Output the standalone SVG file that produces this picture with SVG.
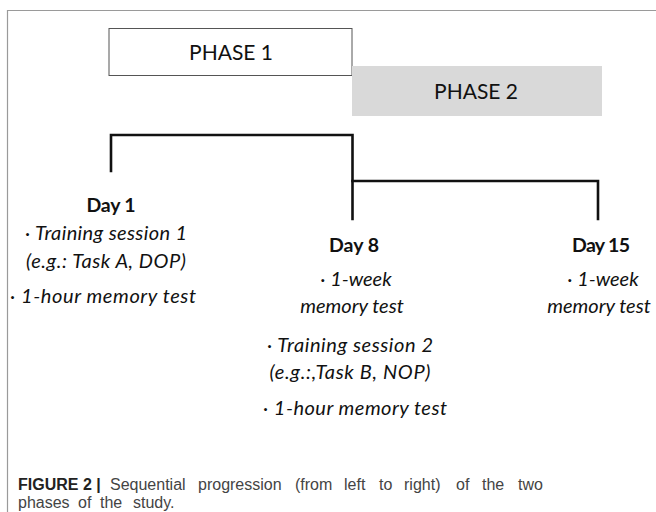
<svg xmlns="http://www.w3.org/2000/svg" width="656" height="512" viewBox="0 0 656 512">
  <style>
    .frame { fill: none; stroke: #9a9a9a; stroke-width: 1.2; }
    .phase-label { font-family: Lato, "Open Sans", sans-serif; font-size: 21px; fill: #111; text-anchor: middle; }
    .day { font-family: Lato, "Open Sans", sans-serif; font-size: 19.5px; font-weight: bold; fill: #111; text-anchor: middle; }
    .item { font-family: Lato, "Open Sans", sans-serif; font-size: 20px; font-style: italic; fill: #111; text-anchor: middle; }
    .conn { fill: none; stroke: #111; stroke-width: 2.6; stroke-linecap: square; }
    .cap { font-family: "Liberation Sans", Arial, sans-serif; font-size: 16px; fill: #444; }
    .cap-b { font-weight: bold; fill: #222; }
  </style>

  <rect width="656" height="512" fill="#ffffff"/>
  <!-- figure frame (top and left rules) -->
  <path class="frame" d="M7.5,512 V10.5 H656"/>

  <g id="phase1">
    <rect x="109" y="28.5" width="243" height="47" fill="#ffffff" stroke="#555" stroke-width="1"/>
    <text class="phase-label" x="231" y="59.5">PHASE 1</text>
  </g>
  <g id="phase2">
    <rect x="352" y="66" width="250" height="50" fill="#d9d9d9"/>
    <text class="phase-label" x="476" y="98.5">PHASE 2</text>
  </g>

  <g id="connectors">
    <path class="conn" d="M111,171 V135 H352.5 V219"/>
    <path class="conn" d="M352.5,181 H598 V219"/>
  </g>

  <g id="day1">
    <text class="day" x="111" y="212" textLength="49">Day 1</text>
    <text class="item" x="106" y="240" textLength="162">· Training session 1</text>
    <text class="item" x="106" y="268" textLength="160">(e.g.: Task A, DOP)</text>
    <text class="item" x="103" y="303" textLength="186">· 1-hour memory test</text>
  </g>

  <g id="day8">
    <text class="day" x="354" y="252" textLength="50">Day 8</text>
    <text class="item" x="356" y="286">· 1-week</text>
    <text class="item" x="352" y="313">memory test</text>
    <text class="item" x="350" y="352" textLength="166">· Training session 2</text>
    <text class="item" x="350" y="379" textLength="161">(e.g.:,Task B, NOP)</text>
    <text class="item" x="355" y="415" textLength="184">· 1-hour memory test</text>
  </g>

  <g id="day15">
    <text class="day" x="601" y="252" textLength="58">Day 15</text>
    <text class="item" x="603" y="286">· 1-week</text>
    <text class="item" x="599" y="313">memory test</text>
  </g>

  <g id="caption">
    <text class="cap" y="490">
      <tspan class="cap-b" x="18">FIGURE 2 |</tspan>
      <tspan x="110">Sequential</tspan>
      <tspan x="198">progression</tspan>
      <tspan x="295">(from</tspan>
      <tspan x="344">left</tspan>
      <tspan x="379">to</tspan>
      <tspan x="404">right)</tspan>
      <tspan x="456">of</tspan>
      <tspan x="482">the</tspan>
      <tspan x="518">two</tspan>
    </text>
    <text class="cap" y="508">
      <tspan x="18">phases</tspan>
      <tspan x="78">of</tspan>
      <tspan x="100">the</tspan>
      <tspan x="133">study.</tspan>
    </text>
  </g>
</svg>
